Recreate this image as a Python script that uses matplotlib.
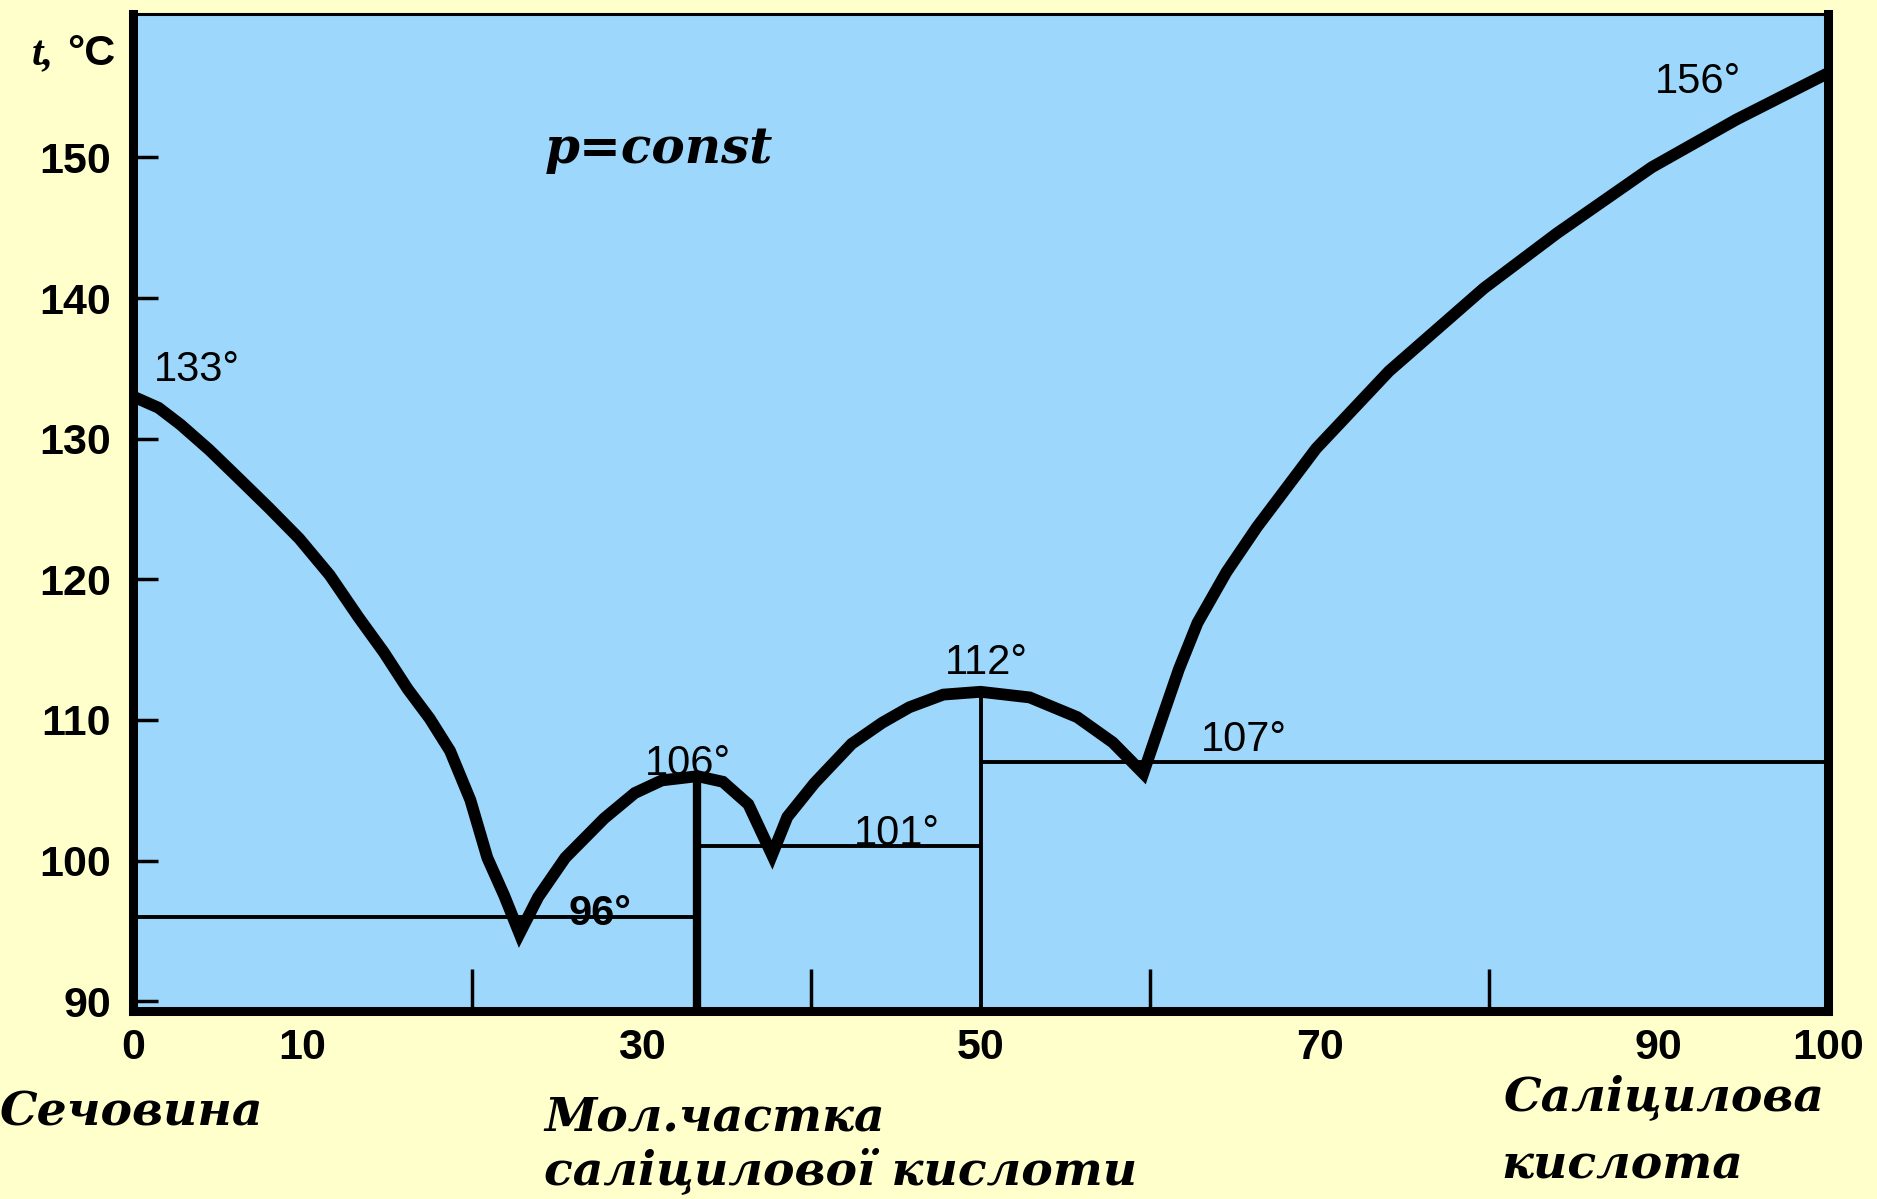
import matplotlib
matplotlib.use('Agg')
import matplotlib.pyplot as plt

# liquidus of the urea - salicylic acid system (mol. % salicylic acid, deg C)
mol_x = [0, 1.5, 2.8, 4.5, 6.3, 8.0, 9.8, 11.6, 13.3, 14.8, 16.2, 17.5, 18.7, 19.9, 20.9, 21.9, 22.8,
         23.9, 25.5, 27.8, 29.6, 31.2, 33.3,
         34.8, 36.3, 37.7,
         38.6, 40.2, 42.4, 44.2, 45.8, 47.8, 50.0,
         52.9, 55.7, 57.8, 59.6,
         60.7, 61.7, 62.8, 64.5, 66.3, 69.8, 74.1, 79.7, 84.0, 89.6, 94.6, 100]
temp_t = [133, 132.2, 131.0, 129.2, 127.1, 125.1, 122.9, 120.3, 117.3, 114.8, 112.2, 110.1, 107.8, 104.3, 100.2, 97.5, 94.8,
          97.4, 100.2, 103.0, 104.8, 105.7, 106,
          105.6, 104.0, 100.4,
          103.1, 105.5, 108.3, 109.8, 110.9, 111.8, 112,
          111.6, 110.2, 108.4, 106.2,
          110.1, 113.6, 116.9, 120.5, 123.7, 129.3, 134.8, 140.7, 144.6, 149.3, 152.7, 156]

# eutectic horizontals
eut_t = [96, 101, 107]
eut_from = [0, 33.3, 50]
eut_to = [33.3, 50, 100]

# compounds melting congruently
comp_x = [33.3, 50]
comp_t = [106, 112]
comp_lw = [6.0, 2.8]

# temperatures written on the diagram
note_t = [133, 96, 106, 101, 112, 107, 156]
note_x = [1.2, 25.7, 30.2, 42.5, 47.9, 63.0, 89.8]
note_y = [134.1, 95.4, 106.1, 101.1, 113.3, 107.8, 154.6]
note_bold = [False, True, False, False, False, False, False]

xtick_vals = [0, 10, 30, 50, 70, 90, 100]
xtick_marks = [20, 30, 40, 50, 60, 70, 80, 90]
ytick_vals = [90, 100, 110, 120, 130, 140, 150]

ymin, ymax = 89.3, 160.2

fig = plt.figure(figsize=(18.77, 11.99), dpi=100, facecolor='#ffffcc')
ax = fig.add_axes([0.0709, 0.1568, 0.9030, 0.8315])
ax.set_facecolor('#9dd8fc')
ax.set_xlim(0, 100)
ax.set_ylim(ymin, ymax)

for side in ['left', 'right', 'bottom']:
    ax.spines[side].set_linewidth(6.5)
ax.spines['top'].set_linewidth(2.2)

ax.hlines(eut_t, eut_from, eut_to, color='black', lw=2.8)
for x, t, w in zip(comp_x, comp_t, comp_lw):
    ax.vlines(x, ymin, t, color='black', lw=w)

ax.plot(mol_x, temp_t, color='black', lw=8.5,
        solid_joinstyle='miter', solid_capstyle='butt')

for t, x, y, b in zip(note_t, note_x, note_y, note_bold):
    ax.text(x, y, '%d°' % t, family='Liberation Sans', size=30,
            weight='bold' if b else 'normal', ha='left', va='baseline')

ax.text(24.3, 149.6, 'p=const', family='DejaVu Serif', style='italic',
        weight='bold', size=36, ha='left', va='baseline')

# ticks: labels on majors, inward marks on minors for x
ax.set_xticks(xtick_vals)
ax.set_xticklabels([str(v) for v in xtick_vals])
ax.tick_params(axis='x', which='major', length=0, pad=12)
ax.set_xticks(xtick_marks, minor=True)
ax.tick_params(axis='x', which='minor', direction='in', length=30, width=2.5)

ax.set_yticks(ytick_vals)
ax.set_yticklabels([str(v) for v in ytick_vals])
ax.tick_params(axis='y', which='major', direction='in', length=18, width=2.5, pad=16)

for lab in ax.get_xticklabels() + ax.get_yticklabels():
    lab.set_family('Liberation Sans')
    lab.set_weight('bold')
    lab.set_size(31)

# axis captions
fig.text(0.017, 0.946, 't,', family='Liberation Serif', style='italic',
         weight='bold', size=30)
fig.text(0.036, 0.946, '°C', family='Liberation Sans', weight='bold', size=31)

cap = dict(family='DejaVu Serif', style='italic', weight='bold', size=34,
           ha='left', va='baseline')
fig.text(0.0, 0.0617, 'Сечовина', **cap)
fig.text(0.290, 0.0575, 'Мол.частка', **cap)
fig.text(0.290, 0.012, 'саліцилової кислоти', **cap)
fig.text(0.801, 0.074, 'Саліцилова', **cap)
fig.text(0.800, 0.0175, 'кислота', **cap)

plt.savefig('out.png', dpi=100, facecolor=fig.get_facecolor())
